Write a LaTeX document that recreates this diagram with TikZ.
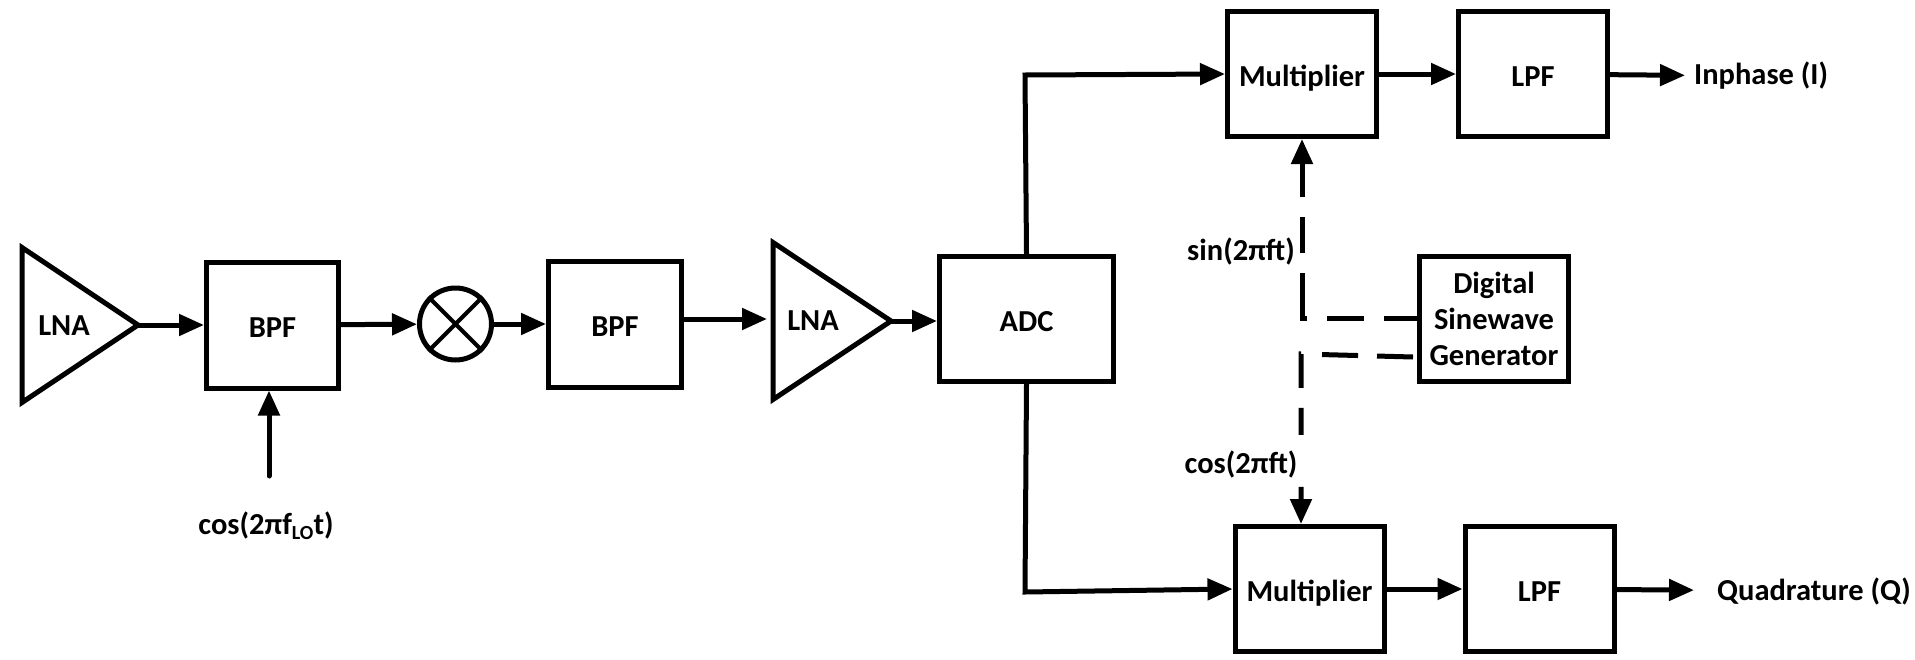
\documentclass[tikz,border=0pt]{standalone}
\usepackage{fontspec}
\setmainfont{Carlito}
\usepackage{tikz}
\usetikzlibrary{positioning,arrows.meta,calc,shapes.geometric}
\newcommand{\lowidx}[1]{\raisebox{-0.35ex}{\fontsize{20}{22}\selectfont #1}}
\tikzset{
  blk/.style={draw, line width=5pt, align=center, inner sep=0pt,
              font=\fontsize{30.5}{36}\selectfont\bfseries},
  bigblk/.style={blk, minimum width=149pt, minimum height=125pt},
  oneline/.style={text height=24pt, text depth=0pt},
  filt/.style={blk, oneline, minimum width=132pt, minimum height=126pt},
  amp/.style={blk, isosceles triangle, isosceles triangle stretches, shape border rotate=0,
              outer sep=0pt, minimum width=155pt, minimum height=116pt, line join=miter},
  mixer/.style={circle, draw, line width=5pt, minimum size=72pt, inner sep=0pt},
  lbl/.style={font=\fontsize{30.5}{36}\selectfont\bfseries, inner sep=0pt},
  wire/.style={-{Triangle[length=25pt,width=21pt]}, line width=5pt, line cap=round},
  tone/.style={wire, line join=miter}
}
\begin{document}
\begin{tikzpicture}[x=1pt,y=-1pt]
  \useasboundingbox (0,0) rectangle (1915,659);
  % receive chain
  \node[amp, anchor=apex] (lna1) at (138,325) {};
  \node[lbl] (lna1txt) at (64,326) {LNA};
  \node[filt, right=66pt of lna1.apex] (bpf1) {BPF};
  \node[mixer, right=76pt of bpf1, yshift=1pt] (mix) {};
  \node[filt, minimum width=133pt, right=52pt of mix] (bpf2) {BPF};
  \node[amp, anchor=apex, minimum height=118pt, minimum width=157pt] (lna2) at (891,321) {};
  \node[lbl] (lna2txt) at (813,321) {LNA};
  \node[bigblk, oneline, minimum width=174pt, right=46pt of lna2.apex, yshift=2pt] (adc) {ADC};
  \node[lbl, anchor=base] (lo) at (266,534) {cos(2πf\lowidx{LO}t)};
  \coordinate (lostart) at (269,476);
  % I and Q branches
  \node[bigblk, oneline] (mult1) at (1302,74) {Multiplier};
  \node[bigblk, oneline, right=77pt of mult1] (lpf1) {LPF};
  \node[lbl, anchor=west] (inph) at (1694,76) {Inphase (I)};
  \node[bigblk, oneline] (mult2) at (1309.5,589) {Multiplier};
  \node[bigblk, oneline, right=76pt of mult2] (lpf2) {LPF};
  \node[lbl, anchor=west] (quad) at (1717,591) {Quadrature (Q)};
  \node[bigblk] (gen) at (1494,318.5) {Digital\\Sinewave\\Generator};
  \node[lbl] (sinlbl) at (1241,251) {sin(2πft)};
  \node[lbl] (coslbl) at (1241,464) {cos(2πft)};
  \coordinate (sintap) at (1302,318);
  \coordinate (costap) at (1301,354);
  \coordinate (cosfrom) at (1413,357);
  \coordinate (upbend) at (1025,75);
  \coordinate (lowbend) at (1025,592);
  \coordinate (lnafeed) at (bpf2.east |- 0,319);
  % connectors
  \draw[wire] (lna1.apex) -- (bpf1);
  \draw[wire] (bpf1) -- (mix);
  \draw[wire] (mix) -- (bpf2);
  \draw[wire, shorten >=6pt] (lnafeed) -- (lnafeed -| lna2.lower side);
  \draw[wire] (lna2.apex) -- (adc.west |- lna2.apex);
  \draw[wire] (lostart) -- (lostart |- bpf1.south);
  \draw[line width=4pt] (mix.45) -- (mix.225) (mix.135) -- (mix.315);
  \draw[wire] (adc.north) -- (upbend) -- (mult1.west);
  \draw[wire] (adc.south) -- (lowbend) -- (mult2.west);
  \draw[wire] (mult1) -- (lpf1);
  \draw[wire] (mult2) -- (lpf2);
  \draw[wire, shorten >=9pt] (lpf1) -- (inph);
  \draw[wire, shorten >=23pt] (lpf2) -- (quad);
  \draw[tone, line cap=butt, dash pattern=on 33pt off 20pt on 37pt off 20pt on 50pt off 20pt on 36pt off 20pt on 200pt]
    (gen.west |- sintap) -- (sintap) -- (sintap |- mult1.south);
  \draw[tone, line cap=butt, dash pattern=on 36pt off 19pt on 36pt off 21pt on 34pt off 20pt on 27pt off 52pt on 200pt]
    (cosfrom) -- (costap) -- (costap |- mult2.north);
\end{tikzpicture}
\end{document}
